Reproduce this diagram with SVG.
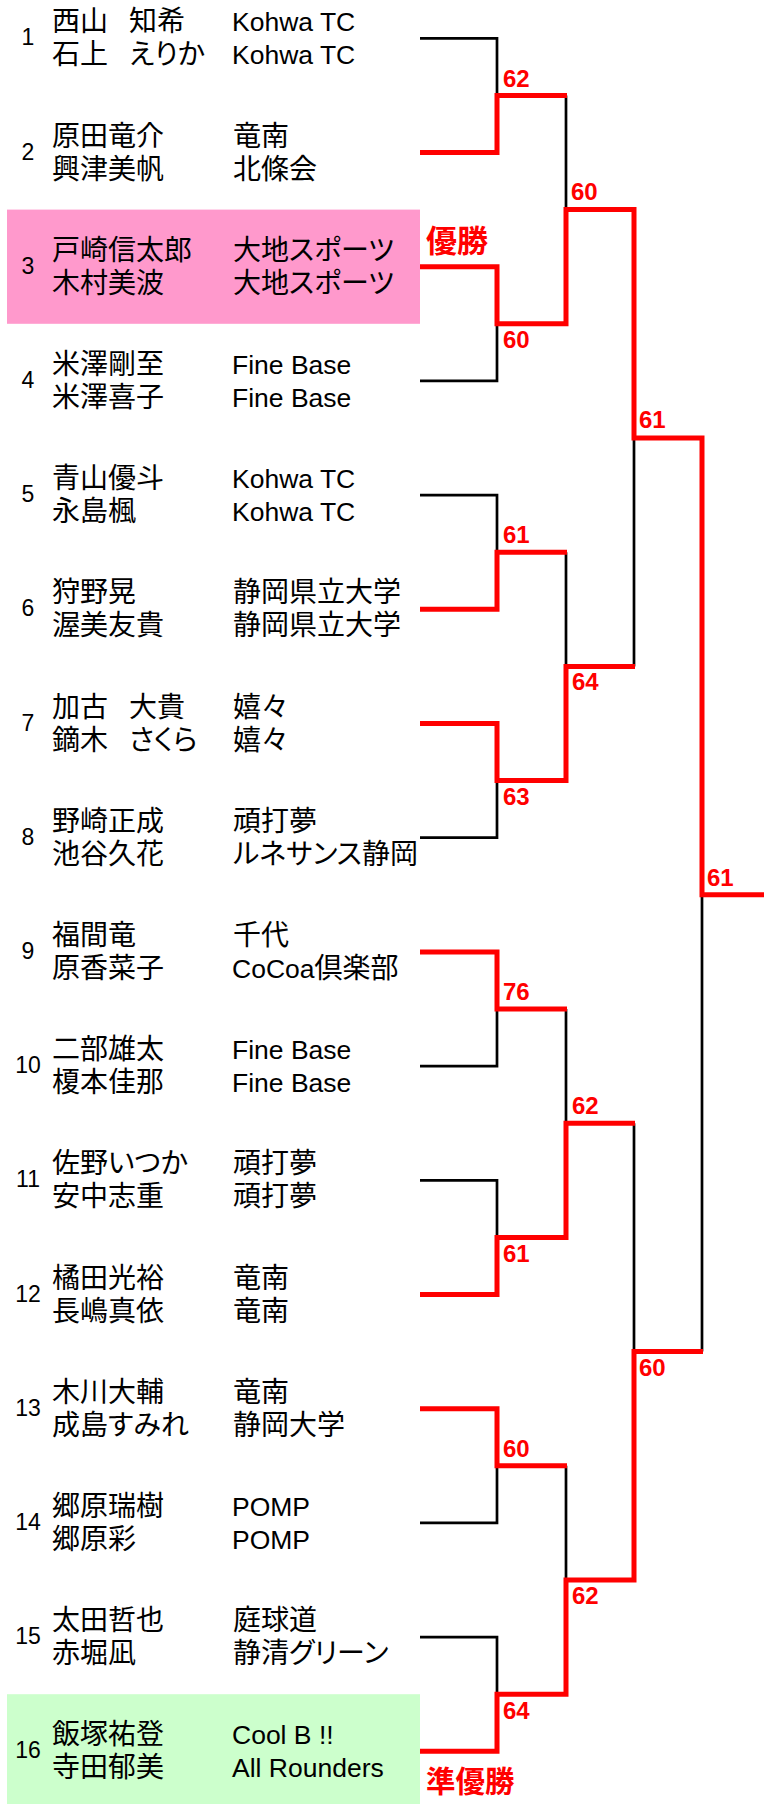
<svg xmlns="http://www.w3.org/2000/svg" width="764" height="1804" viewBox="0 0 764 1804">
<style>
.nm{font-family:"Liberation Sans","Noto Sans CJK JP",sans-serif;font-size:28px;fill:#000;font-feature-settings:"palt"}
.lt{font-size:26.5px}
.gap{font-size:21px}
.sd{font-family:"Liberation Sans",sans-serif;font-size:23px;fill:#000;text-anchor:middle}
.sc{font-family:"Liberation Sans",sans-serif;font-weight:bold;font-size:24px;fill:#f00}
.tt{font-family:"Noto Sans CJK JP",sans-serif;font-weight:bold;font-size:29.5px;fill:#f00}
.bk{fill:none;stroke:#000;stroke-width:2.7}
.rd{fill:none;stroke:#f00;stroke-width:5;stroke-linejoin:miter;stroke-linecap:butt}
</style>
<rect width="764" height="1804" fill="#fff"/>
<g id="p1"><text class="sd" x="28" y="45.3">1</text><text class="nm" x="52" y="31.3">西山<tspan class="gap">　</tspan>知希</text><text class="nm" x="52" y="64.3">石上<tspan class="gap">　</tspan>えりか</text><text class="nm lt" x="232" y="31.3">Kohwa TC</text><text class="nm lt" x="232" y="64.3">Kohwa TC</text></g>
<g id="p2"><text class="sd" x="28" y="159.5">2</text><text class="nm" x="52" y="145.5">原田竜介</text><text class="nm" x="52" y="178.5">興津美帆</text><text class="nm" x="233" y="145.5">竜南</text><text class="nm" x="233" y="178.5">北條会</text></g>
<g id="p3"><rect x="7" y="209.6" width="413" height="114.2" fill="#ff99cc"/><text class="sd" x="28" y="273.7">3</text><text class="nm" x="52" y="259.7">戸崎信太郎</text><text class="nm" x="52" y="292.7">木村美波</text><text class="nm" x="233" y="259.7">大地スポーツ</text><text class="nm" x="233" y="292.7">大地スポーツ</text></g>
<g id="p4"><text class="sd" x="28" y="387.9">4</text><text class="nm" x="52" y="373.9">米澤剛至</text><text class="nm" x="52" y="406.9">米澤喜子</text><text class="nm lt" x="232" y="373.9">Fine Base</text><text class="nm lt" x="232" y="406.9">Fine Base</text></g>
<g id="p5"><text class="sd" x="28" y="502.1">5</text><text class="nm" x="52" y="488.1">青山優斗</text><text class="nm" x="52" y="521.1">永島楓</text><text class="nm lt" x="232" y="488.1">Kohwa TC</text><text class="nm lt" x="232" y="521.1">Kohwa TC</text></g>
<g id="p6"><text class="sd" x="28" y="616.3">6</text><text class="nm" x="52" y="602.3">狩野晃</text><text class="nm" x="52" y="635.3">渥美友貴</text><text class="nm" x="233" y="602.3">静岡県立大学</text><text class="nm" x="233" y="635.3">静岡県立大学</text></g>
<g id="p7"><text class="sd" x="28" y="730.5">7</text><text class="nm" x="52" y="716.5">加古<tspan class="gap">　</tspan>大貴</text><text class="nm" x="52" y="749.5">鏑木<tspan class="gap">　</tspan>さくら</text><text class="nm" x="233" y="716.5">嬉々</text><text class="nm" x="233" y="749.5">嬉々</text></g>
<g id="p8"><text class="sd" x="28" y="844.7">8</text><text class="nm" x="52" y="830.7">野崎正成</text><text class="nm" x="52" y="863.7">池谷久花</text><text class="nm" x="233" y="830.7">頑打夢</text><text class="nm" x="233" y="863.7">ルネサンス静岡</text></g>
<g id="p9"><text class="sd" x="28" y="958.9">9</text><text class="nm" x="52" y="944.9">福間竜</text><text class="nm" x="52" y="977.9">原香菜子</text><text class="nm" x="233" y="944.9">千代</text><text class="nm" x="232" y="977.9"><tspan class="lt">CoCoa</tspan>倶楽部</text></g>
<g id="p10"><text class="sd" x="28" y="1073.1">10</text><text class="nm" x="52" y="1059.1">二部雄太</text><text class="nm" x="52" y="1092.1">榎本佳那</text><text class="nm lt" x="232" y="1059.1">Fine Base</text><text class="nm lt" x="232" y="1092.1">Fine Base</text></g>
<g id="p11"><text class="sd" x="28" y="1187.3">11</text><text class="nm" x="52" y="1173.3">佐野いつか</text><text class="nm" x="52" y="1206.3">安中志重</text><text class="nm" x="233" y="1173.3">頑打夢</text><text class="nm" x="233" y="1206.3">頑打夢</text></g>
<g id="p12"><text class="sd" x="28" y="1301.5">12</text><text class="nm" x="52" y="1287.5">橘田光裕</text><text class="nm" x="52" y="1320.5">長嶋真依</text><text class="nm" x="233" y="1287.5">竜南</text><text class="nm" x="233" y="1320.5">竜南</text></g>
<g id="p13"><text class="sd" x="28" y="1415.7">13</text><text class="nm" x="52" y="1401.7">木川大輔</text><text class="nm" x="52" y="1434.7">成島すみれ</text><text class="nm" x="233" y="1401.7">竜南</text><text class="nm" x="233" y="1434.7">静岡大学</text></g>
<g id="p14"><text class="sd" x="28" y="1529.9">14</text><text class="nm" x="52" y="1515.9">郷原瑞樹</text><text class="nm" x="52" y="1548.9">郷原彩</text><text class="nm lt" x="232" y="1515.9">POMP</text><text class="nm lt" x="232" y="1548.9">POMP</text></g>
<g id="p15"><text class="sd" x="28" y="1644.1">15</text><text class="nm" x="52" y="1630.1">太田哲也</text><text class="nm" x="52" y="1663.1">赤堀凪</text><text class="nm" x="233" y="1630.1">庭球道</text><text class="nm" x="233" y="1663.1">静清グリーン</text></g>
<g id="p16"><rect x="7" y="1694.2" width="413" height="110" fill="#ccffcc"/><text class="sd" x="28" y="1758.3">16</text><text class="nm" x="52" y="1744.3">飯塚祐登</text><text class="nm" x="52" y="1777.3">寺田郁美</text><text class="nm lt" x="232" y="1744.3">Cool B !!</text><text class="nm lt" x="232" y="1777.3">All Rounders</text></g>
<g id="connectors">
<path class="bk" d="M420,38.3H497V95.4 M420,380.9H497V323.8 M420,495.1H497V552.2 M420,837.7H497V780.6 M420,1066.1H497V1009 M420,1180.3H497V1237.4 M420,1522.9H497V1465.8 M420,1637.1H497V1694.2 M566,95.4V209.6 M566,552.2V666.4 M566,1009V1123.2 M566,1465.8V1580 M634,438V666.4 M634,1123.2V1351.6 M702,894.8V1351.6"/>
<path class="rd" d="M420,152.5H497V95.4H567"/>
<path class="rd" d="M420,609.3H497V552.2H567"/>
<path class="rd" d="M420,951.9H497V1009H567"/>
<path class="rd" d="M420,1408.7H497V1465.8H567"/>
<path class="rd" d="M420,723.5H497V780.6H566V666.4H635"/>
<path class="rd" d="M420,1294.5H497V1237.4H566V1123.2H635"/>
<path class="rd" d="M420,1751.3H497V1694.2H566V1580H634V1351.6H703"/>
<path class="rd" d="M420,266.7H497V323.8H566V209.6H634V438H702V894.8H764"/>
</g>
<g id="scores">
<text class="sc" x="503" y="87">62</text>
<text class="sc" x="503" y="348">60</text>
<text class="sc" x="571" y="200">60</text>
<text class="sc" x="639" y="428">61</text>
<text class="sc" x="503" y="543">61</text>
<text class="sc" x="572" y="690">64</text>
<text class="sc" x="503" y="805">63</text>
<text class="sc" x="707" y="886">61</text>
<text class="sc" x="503" y="1000">76</text>
<text class="sc" x="572" y="1114">62</text>
<text class="sc" x="503" y="1262">61</text>
<text class="sc" x="639" y="1376">60</text>
<text class="sc" x="503" y="1457">60</text>
<text class="sc" x="572" y="1604">62</text>
<text class="sc" x="503" y="1719">64</text>
</g>
<g id="titles">
<text class="tt" x="426" y="252" style="font-size:31px">優勝</text>
<text class="tt" x="426" y="1792">準優勝</text>
</g>
</svg>
